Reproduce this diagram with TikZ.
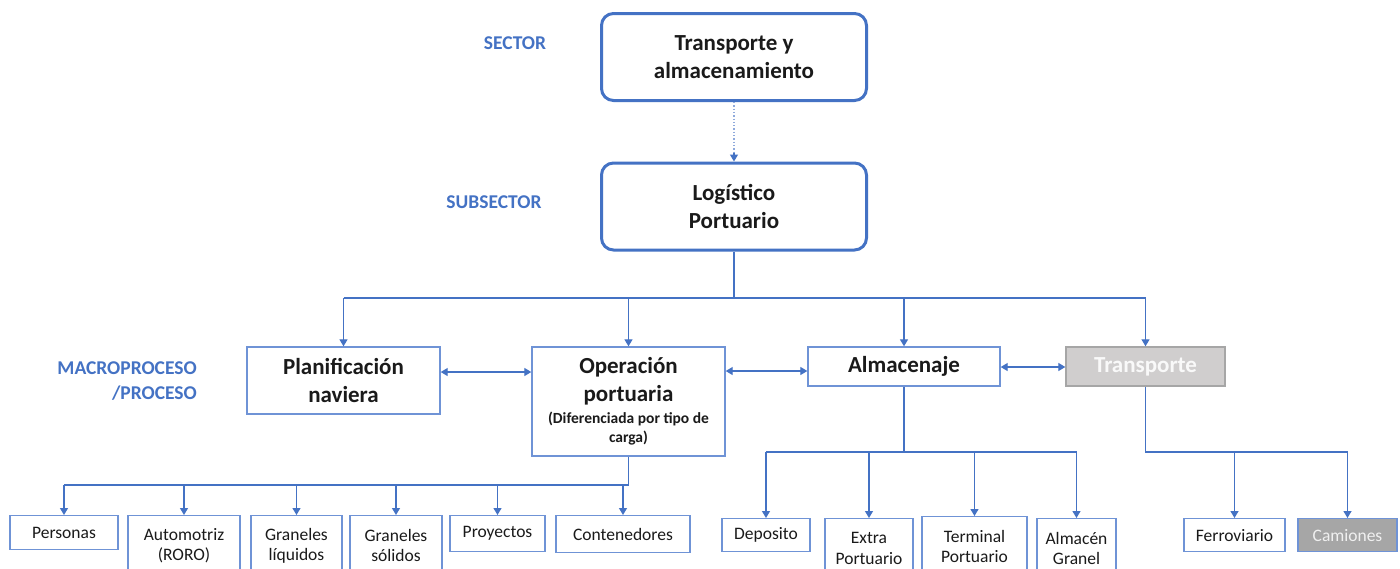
\documentclass[tikz,border=0pt]{standalone}
\usepackage{fontspec}
\setmainfont{Carlito}
\usetikzlibrary{arrows.meta}
\definecolor{mblue}{HTML}{4472C4}
\definecolor{lblue}{HTML}{6F93D6}
\definecolor{dotblue}{HTML}{8FAADC}
\definecolor{lgray}{HTML}{D0CECE}
\definecolor{dgray}{HTML}{A6A6A6}
\definecolor{txt}{HTML}{1A1A1A}
\tikzset{
  topbox/.style={draw=mblue, line width=3pt, rounded corners=12pt, minimum width=265pt, minimum height=87pt, align=center, text=txt, font=\fontsize{23}{28}\selectfont\bfseries, inner sep=0pt},
  macbox/.style={draw=lblue, line width=1.4pt, minimum width=193pt, align=center, text=txt, font=\fontsize{23}{28}\selectfont\bfseries, inner sep=0pt},
  smallbox/.style={draw=lblue, line width=1.3pt, align=center, text=txt, font=\fontsize{17.5}{20.5}\selectfont, inner sep=0pt},
  lvl/.style={text=mblue, font=\fontsize{19.5}{25}\selectfont\bfseries, align=right, inner sep=0pt},
  conn/.style={draw=mblue, line width=1.3pt},
  arr/.style={conn, -{Triangle[width=8pt,length=7pt]}},
  darr/.style={conn, {Triangle[width=8pt,length=7pt]}-{Triangle[width=8pt,length=7pt]}},
}
\begin{document}
\begin{tikzpicture}[x=1pt,y=-1pt]
\useasboundingbox (0,0) rectangle (1400,568);
\clip (0,0) rectangle (1400,568);
\fill[white] (0,0) rectangle (1400,568);

% level labels
\node[lvl] (lsector) at (515,43) {SECTOR};
\node[lvl] (lsub) at (494,202) {SUBSECTOR};
\node[lvl, anchor=east] (lmac) at (197,381) {MACROPROCESO\\/PROCESO};

% top boxes
\node[topbox] (sector) at (734,57) {Transporte y\\almacenamiento};
\node[topbox] (sub) at (734,206.5) {Logístico\\Portuario};

% macro boxes
\node[macbox, minimum height=67pt] (plan) at (343.5,380.5) {Planificación\\naviera};
\node[macbox, minimum height=109pt] (oper) at (628.5,401.5) {Operación\\portuaria\\[-6pt]{\fontsize{15.5}{19}\selectfont (Diferenciada por tipo de}\\[-9pt]{\fontsize{15.5}{19}\selectfont carga)}};
\node[macbox, minimum width=192pt, minimum height=39pt] (alm) at (904,366.5) {Almacenaje};
\node[macbox, draw=dgray, fill=lgray, text=white!95!gray, minimum width=159pt, minimum height=39pt] (trans) at (1145.5,366.5) {Transporte};

% bottom left boxes
\node[smallbox, minimum width=108pt, minimum height=34pt, anchor=north] (pers) at (64,515) {Personas};
\node[smallbox, minimum width=112pt, minimum height=60pt, anchor=north] (auto) at (184,515) {Automotriz\\(RORO)};
\node[smallbox, minimum width=91pt, minimum height=60pt, anchor=north] (gliq) at (296.5,515) {Graneles\\líquidos};
\node[smallbox, minimum width=92pt, minimum height=60pt, anchor=north] (gsol) at (396,515) {Graneles\\sólidos};
\node[smallbox, minimum width=95pt, minimum height=36pt, anchor=north] (proy) at (497.5,515) {Proyectos};
\node[smallbox, minimum width=134pt, minimum height=37pt, anchor=north] (cont) at (623,515) {Contenedores};

% bottom right boxes
\node[smallbox, minimum width=88pt, minimum height=33pt, anchor=north] (depo) at (766,518) {Deposito};
\node[smallbox, minimum width=88pt, minimum height=60pt, anchor=north] (extra) at (869,518) {Extra\\Portuario};
\node[smallbox, minimum width=105pt, minimum height=60pt, anchor=north] (term) at (974.5,516) {Terminal\\Portuario};
\node[smallbox, minimum width=79pt, minimum height=60pt, anchor=north] (agran) at (1076.5,518) {Almacén\\Granel};
\node[smallbox, minimum width=101pt, minimum height=33pt, anchor=north] (ferro) at (1234.5,518) {Ferroviario};
\node[smallbox, draw=lblue, fill=dgray, text=white!88!gray, minimum width=99pt, minimum height=33pt, anchor=north] (cam) at (1347.5,518) {Camiones};

% connectors
\coordinate (dotend) at ([yshift=9pt]sub.north);
\draw[draw=dotblue, line width=1.3pt, dotted] (sector.south) -- (dotend);
\draw[arr] (dotend) -- (sub.north);

\coordinate (hub) at (734,298);
\draw[conn] (sub.south) -- (hub);
\draw[conn] (343.5,298) -- (1145.5,298);
\draw[arr] (343.5,298) -- (plan.north);
\draw[arr] (628.5,298) -- (oper.north);
\draw[arr] (904,298) -- (alm.north);
\draw[arr] (1145.5,298) -- (trans.north);

\draw[darr] (plan.east |- 0,372) -- (oper.west |- 0,372);
\draw[darr] (oper.east |- 0,371) -- (alm.west |- 0,371);
\draw[darr] (alm.east |- 0,367) -- (trans.west |- 0,367);

% operacion children
\coordinate (obus) at (628.5,485);
\draw[conn] (oper.south) -- (obus) -- (64,485);
\draw[arr] (64,485) -- (pers.north);
\draw[arr] (184,485) -- (auto.north);
\draw[arr] (296.5,485) -- (gliq.north);
\draw[arr] (396,485) -- (gsol.north);
\draw[arr] (497.5,485) -- (proy.north);
\draw[arr] (623,485) -- (cont.north);

% almacenaje children
\coordinate (abus) at (904,452);
\draw[conn] (alm.south) -- (abus);
\draw[conn] (766,452) -- (1076.5,452);
\draw[arr] (766,452) -- (depo.north);
\draw[arr] (869,452) -- (extra.north);
\draw[arr] (974.5,452) -- (term.north);
\draw[arr] (1076.5,452) -- (agran.north);

% transporte children
\coordinate (tbus) at (1145.5,452);
\draw[conn] (trans.south) -- (tbus) -- (1347.5,452);
\draw[arr] (1234.5,452) -- (ferro.north);
\draw[arr] (1347.5,452) -- (cam.north);
\end{tikzpicture}
\end{document}
